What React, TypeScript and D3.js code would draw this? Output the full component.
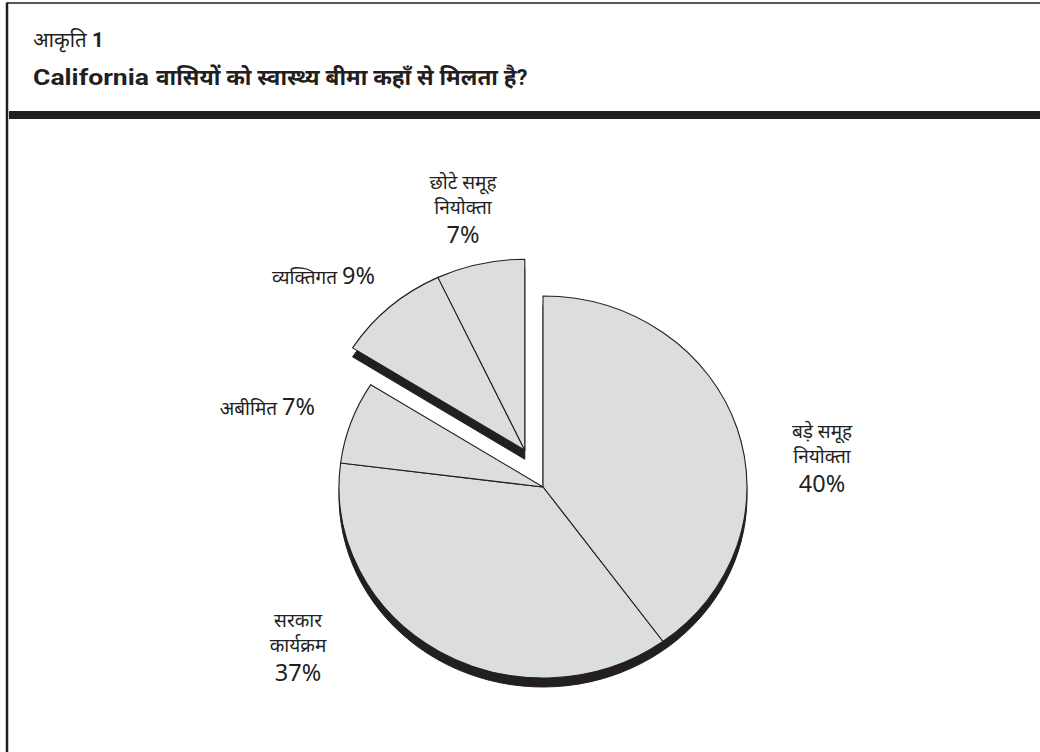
import React from "react";
import * as d3 from "d3";

const categories = ["बड़े समूह नियोक्ता", "सरकार कार्यक्रम", "अबीमित", "व्यक्तिगत", "छोटे समूह नियोक्ता"];
const values = [40, 37, 7, 9, 7];
const exploded = [false, false, false, true, true];
const labelLines = [
  ["बड़े समूह", "नियोक्ता", "40%"],
  ["सरकार", "कार्यक्रम", "37%"],
  ["अबीमित 7%"],
  ["व्यक्तिगत 9%"],
  ["छोटे समूह", "नियोक्ता", "7%"],
];

// layout (not data)
const W = 1040, H = 752;
const CX = 543, CY = 487;
const RX = 204, RY = 191;
const DEPTH = 9;
const EXPLODE = 42;
const labelLayout = [
  { x: 822, y: 438, anchor: "middle" },
  { x: 298, y: 627, anchor: "middle" },
  { x: 315, y: 415, anchor: "end" },
  { x: 375, y: 284, anchor: "end" },
  { x: 463, y: 189, anchor: "middle" },
];
const FILL = "#dcdddf";
const INK = "#231f20";
const LABEL_FONT = "'Noto Sans', 'Open Sans', sans-serif";
const HINDI_SIZE = 19;
const PCT_SIZE = 23.5;

export default function App() {
  const pie = d3.pie<number>().sort(null).value((d) => d)(values);
  const arc = d3.arc<d3.PieArcDatum<number>>().innerRadius(0).outerRadius(RX);
  const sy = RY / RX;

  const exp = pie.filter((_, i) => exploded[i]);
  const eStart = d3.min(exp, (d) => d.startAngle)!;
  const eEnd = d3.max(exp, (d) => d.endAngle)!;
  const eMid = (eStart + eEnd) / 2;
  const ex = Math.sin(eMid) * EXPLODE * 0.9;
  const ey = -Math.cos(eMid) * EXPLODE;

  const groupArc = (a0: number, a1: number) =>
    d3.arc()({ innerRadius: 0, outerRadius: RX, startAngle: a0, endAngle: a1 } as any) as string;

  const main = pie.filter((_, i) => !exploded[i]);
  const mStart = d3.min(main, (d) => d.startAngle)!;
  const mEnd = d3.max(main, (d) => d.endAngle)!;

  const renderGroup = (slices: d3.PieArcDatum<number>[], a0: number, a1: number, dx: number, dy: number, key: string) => (
    <g key={key} transform={`translate(${CX + dx},${CY + dy})`}>
      <g transform={`translate(0,${DEPTH}) scale(1,${sy})`}>
        <path d={groupArc(a0, a1)} fill={INK} stroke={INK} strokeWidth={1} vectorEffect="non-scaling-stroke" />
      </g>
      <g transform={`scale(1,${sy})`}>
        {slices.map((s, i) => (
          <path
            key={i}
            d={arc(s) as string}
            fill={FILL}
            stroke={INK}
            strokeWidth={1.1}
            strokeLinejoin="round"
            vectorEffect="non-scaling-stroke"
          />
        ))}
      </g>
    </g>
  );

  return (
    <svg width={W} height={H} style={{ position: "absolute", left: 0, top: 0, background: "#fff" }}>
      {/* frame */}
      <line x1={7} y1={3} x2={W} y2={3} stroke={INK} strokeWidth={1.5} />
      <line x1={7} y1={2.5} x2={7} y2={H} stroke={INK} strokeWidth={2.5} />
      <rect x={9} y={111} width={W - 9} height={8} fill={INK} />

      {/* title */}
      <text x={33} y={47} fontFamily="'Roboto', sans-serif" fill={INK}>
        <tspan fontFamily="'Noto Sans', sans-serif" fontSize={20.5}>आकृति </tspan>
        <tspan fontWeight="bold" fontSize={20.5}>1</tspan>
      </text>
      <text x={33} y={85} fontFamily="'Roboto', sans-serif" fontWeight="bold" fontSize={22} fill={INK}
        textLength={116} lengthAdjust="spacingAndGlyphs">California</text>
      <text x={156} y={85} fontFamily="'Noto Sans', sans-serif" fontWeight="bold" fontSize={22.5} fill={INK}>
        वासियों को स्वास्थ्य बीमा कहाँ से मिलता है<tspan fontFamily="'Roboto', sans-serif" fontSize={22}>?</tspan>
      </text>

      {renderGroup(main, mStart, mEnd, 0, 0, "main")}
      {renderGroup(exp, eStart, eEnd, ex, ey, "exp")}

      {/* labels */}
      {labelLines.map((lines, i) => (
        <text
          key={categories[i]}
          x={labelLayout[i].x}
          y={labelLayout[i].y}
          textAnchor={labelLayout[i].anchor as any}
          fontFamily={LABEL_FONT}
          fill={INK}
        >
          {lines.map((ln, j) => {
            const isPct = /%$/.test(ln) && lines.length > 1;
            return (
              <tspan
                key={j}
                x={labelLayout[i].x}
                dy={j === 0 ? 0 : isPct ? 29 : 25}
                fontSize={isPct ? PCT_SIZE : HINDI_SIZE}
              >
                {lines.length === 1
                  ? [
                      <tspan key="a" fontSize={HINDI_SIZE}>{ln.replace(/ \d+%$/, " ")}</tspan>,
                      <tspan key="b" fontSize={PCT_SIZE}>{ln.match(/\d+%$/)![0]}</tspan>,
                    ]
                  : ln}
              </tspan>
            );
          })}
        </text>
      ))}
    </svg>
  );
}
